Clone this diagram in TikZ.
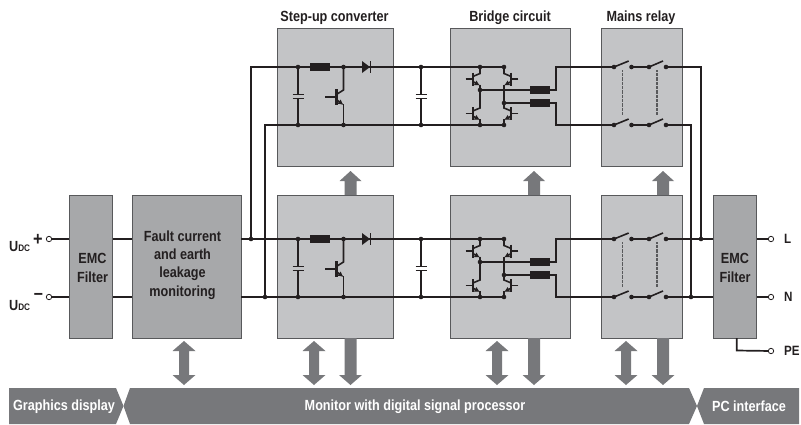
\documentclass[tikz,border=0pt]{standalone}
\usepackage{fontspec}
\setmainfont{Liberation Sans}[FakeStretch=0.86]
\usetikzlibrary{arrows.meta}
\definecolor{wirec}{HTML}{231F20}
\definecolor{lightbox}{HTML}{C3C4C6}
\definecolor{darkbox}{HTML}{A7A8AA}
\definecolor{arrowc}{HTML}{77787B}
\definecolor{edgec}{HTML}{58595B}
\tikzset{
  block/.style={draw=edgec,line width=0.9pt,fill=lightbox,minimum width=#1,inner sep=0pt,anchor=north west},
  wire/.style={draw=wirec,line width=1.7pt,line join=miter},
  thin wire/.style={draw=wirec,line width=1.6pt},
  dotc/.style={fill=wirec},
  term/.style={circle,draw=wirec,fill=white,line width=0.8pt,minimum size=5.4pt,inner sep=0pt},
  lbl/.style={font=\bfseries\fontsize{14.7}{18.3}\selectfont,text=wirec,align=center,inner sep=0pt},
  buslbl/.style={font=\bfseries\fontsize{14.7}{18.3}\selectfont,text=white,inner sep=0pt},
  coil/.style={fill=wirec,draw=none},
  gang/.style={draw=edgec,line width=1.6pt,dash pattern=on 0.8pt off 0.5pt},
  garrow/.style={fill=arrowc,draw=none},
}
\newcommand{\jn}[2]{\fill[dotc] (#1,#2) circle (2.3);}
\newcommand{\dblarrow}[1]{\fill[garrow] (#1,341) -- (#1+11.5,351) -- (#1+5,351) -- (#1+5,375) -- (#1+11.5,375) -- (#1,385) -- (#1-11.5,375) -- (#1-5,375) -- (#1-5,351) -- (#1-11.5,351) -- cycle;}
\newcommand{\downarrowg}[1]{\fill[garrow] (#1-6,338) -- (#1+6,338) -- (#1+6,375) -- (#1+11.5,375) -- (#1,385) -- (#1-11.5,375) -- (#1-6,375) -- cycle;}
\newcommand{\uparrowg}[1]{\fill[garrow] (#1-6,195) -- (#1+6,195) -- (#1+6,181) -- (#1+11,181) -- (#1,171) -- (#1-11,181) -- (#1-6,181) -- cycle;}
% #7 length of the base lead
\newcommand{\trans}[7]{%
  \begin{scope}[shift={(#1,#2)},xscale=#3]
    \draw[thin wire] (-#7,0) -- (-6.5,0);
    \draw[draw=wirec,line width=2.4pt] (-7,-#4) -- (-7,#4);
    \draw[thin wire] (-7,-2.6) -- (0,-#4+1) -- (0,#5);
    \draw[thin wire] (0,#4-1) -- (0,#6);
    \draw[thin wire,-{Latex[length=5.5pt,width=5.5pt]}] (-7,2.6) -- (0,#4);
  \end{scope}}
\newcommand{\capa}[3]{%
  \draw[thin wire] (#1,#2) -- (#1,#2+27.5) (#1,#2+31.5) -- (#1,#3);
  \draw[thin wire] (#1-5.5,#2+27.5) -- (#1+5.5,#2+27.5) (#1-5.5,#2+31.5) -- (#1+5.5,#2+31.5);
  \jn{#1}{#2}\jn{#1}{#3}}
\newcommand{\stage}[1]{%
  \pgfmathsetmacro{\ya}{#1}\pgfmathsetmacro{\yb}{#1+58}
  \pgfmathsetmacro{\ym}{#1+30}
  \draw[wire] (276,\ya) -- (504,\ya);
  \draw[wire] (276,\yb) -- (504,\yb);
  \capa{298}{\ya}{\yb}
  \fill[coil] (310,\ya-3.8) rectangle (330,\ya+3.8);
  \trans{343.5}{\ym}{1}{8}{-30}{28}{18.5}
  \jn{343.5}{\ya}\jn{343.5}{\yb}
  \fill[wirec] (362,\ya-6) -- (370,\ya) -- (362,\ya+6) -- cycle;
  \draw[draw=wirec,line width=1.4pt] (370.5,\ya-6) -- (370.5,\ya+6);
  \capa{421}{\ya}{\yb}
  \pgfmathsetmacro{\ymA}{#1+23}\pgfmathsetmacro{\ymB}{#1+36}
  \pgfmathsetmacro{\ytA}{#1+12}\pgfmathsetmacro{\ytB}{#1+46.5}
  \trans{480}{\ytA}{1}{6.5}{-12}{11}{14.3}
  \trans{480}{\ytB}{1}{6.5}{-11}{12}{14.3}
  \trans{504}{\ytA}{-1}{6.5}{-12}{11}{14.3}
  \trans{504}{\ytB}{-1}{6.5}{-11}{12}{14.3}
  \draw[thin wire] (480,\ymA) -- (480,\ymB+4) (504,\ymA) -- (504,\ymB+4);
  \jn{480}{\ya}\jn{504}{\ya}\jn{480}{\yb}\jn{504}{\yb}
  \jn{480}{\ymA}\jn{504}{\ymB}
  \draw[thin wire] (480,\ymA) -- (556,\ymA) -- (556,\ya) -- (614,\ya) (631.5,\ya) -- (649,\ya);
  \draw[thin wire] (504,\ymB) -- (556,\ymB) -- (556,\yb) -- (614,\yb) (631.5,\yb) -- (649,\yb);
  \fill[coil] (530,\ymA-4) rectangle (550,\ymA+4);
  \fill[coil] (530,\ymB-4) rectangle (550,\ymB+4);
  \foreach \y in {\ya,\yb}{
    \draw[thin wire] (614,\y) -- (628.7,\y-6) (649,\y) -- (663,\y-6);
    \jn{614}{\y}\jn{631.5}{\y}\jn{649}{\y}\jn{666}{\y}}
  \draw[gang] (622.5,\ya+3) -- (622.5,\yb-10);
  \draw[gang] (657,\ya+3) -- (657,\yb-10);
}
\begin{document}
\begin{tikzpicture}[x=1pt,y=-1pt]
\useasboundingbox (0,0) rectangle (801,424);
\node[block=116.5pt,minimum height=138pt] (stepT) at (276.7,28) {};
\node[block=116.5pt,minimum height=143pt] (stepB) at (276.7,195) {};
\node[block=120pt,minimum height=138pt] (brT) at (450,28) {};
\node[block=120pt,minimum height=143pt] (brB) at (450,195) {};
\node[block=81pt,minimum height=138pt] (reT) at (601,28) {};
\node[block=81pt,minimum height=143pt] (reB) at (601,195) {};
\node[block=43pt,minimum height=143pt,fill=darkbox] (emcL) at (69,195) {};
\node[block=109pt,minimum height=143pt,fill=darkbox] (fault) at (131.5,195) {};
\node[block=43pt,minimum height=143pt,fill=darkbox] (emcR) at (713,195) {};
\node[lbl] (t1) at (334.5,17.5) {Step-up converter};
\node[lbl] (t2) at (510,17.5) {Bridge circuit};
\node[lbl] (t3) at (641,17.5) {Mains relay};
\node[lbl] (tEL) at (92.5,268) {EMC\\Filter};
\node[lbl] (tER) at (735,268) {EMC\\Filter};
\node[lbl] (tF) at (182.5,265) {Fault current\\and earth\\leakage\\monitoring};
\stage{67}
\stage{239}
\coordinate (jA) at (251,239);
\coordinate (jB) at (265,297);
\coordinate (jC) at (701,239);
\coordinate (jD) at (691,297);
\node[term] (uP) at (49,239) {};
\node[term] (uN) at (49,297) {};
\node[term] (tL) at (771,239) {};
\node[term] (tN) at (771,297) {};
\node[term] (tPE) at (771,351) {};
\draw[wire] (uP) -- (emcL.west |- uP);
\draw[wire] (uN) -- (emcL.west |- uN);
\draw[wire] (emcL.east |- uP) -- (fault.west |- uP);
\draw[wire] (emcL.east |- uN) -- (fault.west |- uN);
\draw[wire] (fault.east |- jA) -- (stepB.west |- jA);
\draw[wire] (fault.east |- jB) -- (stepB.west |- jB);
\draw[wire] (jA) -- (251,67) -- (stepT.west |- 276,67);
\draw[wire] (jB) -- (265,125) -- (stepT.west |- 276,125);
\draw[wire] (666,67) -- (701,67) -- (jC);
\draw[wire] (666,125) -- (691,125) -- (jD);
\draw[wire] (666,239) -- (emcR.west |- jC);
\draw[wire] (666,297) -- (emcR.west |- jD);
\draw[wire] (emcR.east |- tL) -- (tL);
\draw[wire] (emcR.east |- tN) -- (tN);
\draw[wire] (736.7,338) -- (736.7,350.5) -- (tPE);
\jn{251}{239}\jn{265}{297}\jn{701}{239}\jn{691}{297}
\node[lbl,anchor=west,font=\bfseries\fontsize{13.5}{15}\selectfont] (lL) at (784,239) {L};
\node[lbl,anchor=west,font=\bfseries\fontsize{13.5}{15}\selectfont] (lN) at (784,297) {N};
\node[lbl,anchor=west,font=\bfseries\fontsize{13.5}{15}\selectfont] (lPE) at (784,351) {PE};
\node[lbl,anchor=west] (lU1) at (9,247) {U{\fontsize{9.5}{10}\selectfont DC}};
\node[lbl,anchor=west] (lU2) at (9,306) {U{\fontsize{9.5}{10}\selectfont DC}};
\node[lbl,font=\bfseries\fontsize{19}{19}\selectfont] (lP) at (38,239.5) {+};
\node[lbl,font=\bfseries\fontsize{19}{19}\selectfont] (lM) at (38.5,296.5) {–};
\dblarrow{184}\dblarrow{314}\dblarrow{497}\dblarrow{626}
\downarrowg{350.5}\downarrowg{534}\downarrowg{663}
\uparrowg{350.5}\uparrowg{534}\uparrowg{663}
\fill[arrowc] (9,388) -- (116,388) -- (123.5,406) -- (116,424) -- (9,424) -- cycle;
\fill[arrowc] (130,388) -- (689,388) -- (697,406) -- (689,424) -- (130,424) -- (123.5,406) -- cycle;
\fill[arrowc] (704,388) -- (799,388) -- (799,424) -- (704,424) -- (697,406) -- cycle;
\node[buslbl] (bG) at (64,406.5) {Graphics display};
\node[buslbl] (bM) at (415,406.5) {Monitor with digital signal processor};
\node[buslbl] (bP) at (749,406.5) {PC interface};
\end{tikzpicture}
\end{document}
